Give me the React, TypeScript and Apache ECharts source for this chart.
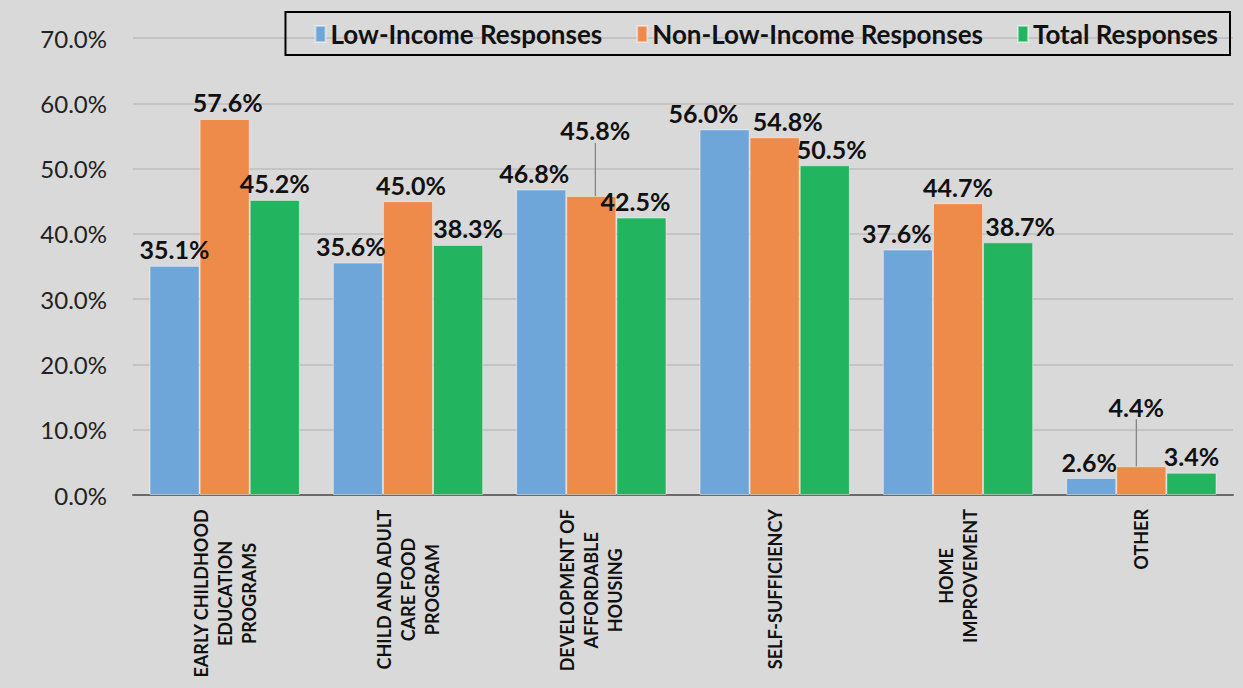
import React, { useEffect, useRef } from "react";
import * as echarts from "echarts";

const categories = [
  "EARLY CHILDHOOD\nEDUCATION\nPROGRAMS",
  "CHILD AND ADULT\nCARE FOOD\nPROGRAM",
  "DEVELOPMENT OF\nAFFORDABLE\nHOUSING",
  "SELF-SUFFICIENCY",
  "HOME\nIMPROVEMENT",
  "OTHER",
];
const seriesNames = ["Low-Income Responses", "Non-Low-Income Responses", "Total Responses"];
const lowIncome = [35.1, 35.6, 46.8, 56.0, 37.6, 2.6];
const nonLowIncome = [57.6, 45.0, 45.8, 54.8, 44.7, 4.4];
const total = [45.2, 38.3, 42.5, 50.5, 38.7, 3.4];
const yTicks = { min: 0, max: 70, interval: 10 };

// label placement tweaks (layout only)
const labelDx = [
  [0, -7, -7, -21, -11, -2],
  [3, 3, 4, 13, 0, -5],
  [0, 10, -6, 7, 12, 0],
];
const labelDy = [
  [3, 3, 3, 3, 3, 3],
  [3, 3, -46, 3, 3, -40],
  [3, 3, 3, 3, 3, 3],
];

const colors = ["#6fa6d9", "#ee8b4b", "#22b45f"];
const FONT = "Lato, 'Liberation Sans', sans-serif";

export default function App() {
  const ref = useRef<HTMLDivElement>(null);
  useEffect(() => {
    if (!ref.current) return;
    const chart = echarts.init(ref.current, null, { renderer: "svg" });
    const all = [lowIncome, nonLowIncome, total];
    const series = all.map((vals, si) => ({
      name: seriesNames[si],
      type: "bar",
      barGap: "0%",
      barCategoryGap: "18%",
      itemStyle: { color: colors[si], borderColor: "rgba(255,255,255,0.45)", borderWidth: 1 },
      data: vals.map((v, i) =>
        labelDy[si][i] < 0
          ? { value: v, labelLine: { show: true, lineStyle: { color: "#7f7f7f", width: 1.2 } } }
          : { value: v }
      ),
      label: {
        show: true,
        position: "top",
        distance: 7,
        formatter: (p: any) => `${Number(p.value).toFixed(1)}%`,
        fontFamily: FONT,
        fontWeight: "bold",
        fontSize: 25,
        color: "#111",
      },
      labelLayout: (p: any) => ({ dx: labelDx[si][p.dataIndex], dy: labelDy[si][p.dataIndex] }),
    }));
    chart.setOption({
      animation: false,
      backgroundColor: "#d9d9d9",
      color: colors,
      textStyle: { fontFamily: FONT },
      legend: {
        right: 13,
        top: 12,
        padding: [9, 12, 8, 29],
        itemGap: 34,
        itemWidth: 10,
        itemHeight: 16,
        icon: "rect",
        borderColor: "#000",
        borderWidth: 2,
        textStyle: { fontFamily: FONT, fontWeight: "bold", fontSize: 26, color: "#111" },
        data: seriesNames,
      },
      grid: { left: 133, right: 10, top: 38, bottom: 193 },
      xAxis: {
        type: "category",
        data: categories,
        axisTick: { show: false },
        axisLine: { lineStyle: { color: "#6a6a6a", width: 2 } },
        axisLabel: {
          interval: 0,
          rotate: 90,
          margin: 14,
          formatter: (v: string) => v.split("\n").map((l) => `{c|${l}}`).join("\n"),
          rich: {
            c: {
              align: "center",
              fontFamily: FONT,
              fontWeight: "bold",
              fontSize: 18,
              lineHeight: 24,
              color: "#111",
            },
          },
        },
      },
      yAxis: {
        type: "value",
        min: yTicks.min,
        max: yTicks.max,
        interval: yTicks.interval,
        axisLine: { show: false },
        axisTick: { show: false },
        splitLine: { lineStyle: { color: "#bdbdbd", width: 1.5 } },
        axisLabel: {
          formatter: (v: number) => `${v.toFixed(1)}%`,
          fontFamily: FONT,
          fontSize: 24,
          color: "#222",
          margin: 26,
        },
      },
      series,
    });
    return () => chart.dispose();
  }, []);
  return (
    <div
      ref={ref}
      style={{ position: "fixed", left: 0, top: 0, width: 1243, height: 688 }}
    />
  );
}
